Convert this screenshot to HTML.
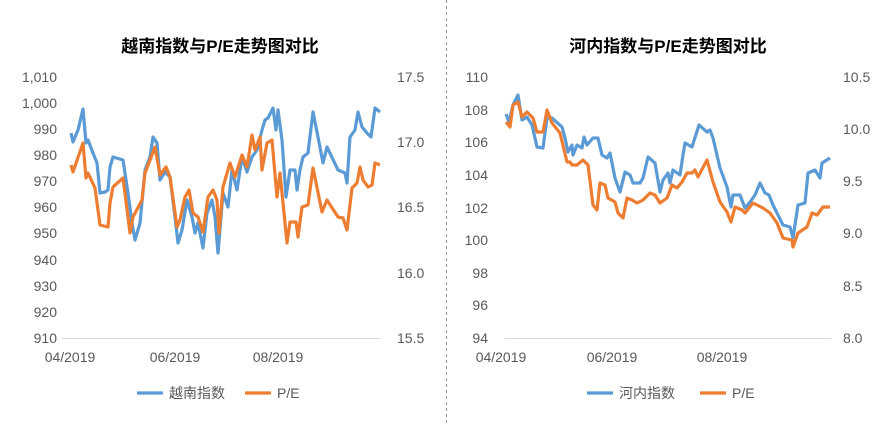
<!DOCTYPE html>
<html><head><meta charset="utf-8"><style>
body{margin:0;background:#fff}
svg text{font-family:"Liberation Sans","Noto Sans CJK SC",sans-serif;fill:#595959;font-size:14px}
.t{font-weight:bold;fill:#000;font-size:17px}
</style></head><body>
<svg width="894" height="425" viewBox="0 0 894 425" xmlns="http://www.w3.org/2000/svg">
<line x1="446.5" y1="0" x2="446.5" y2="425" stroke="#999" stroke-dasharray="3,3"/>
<text class="t" x="220" y="52" text-anchor="middle">越南指数与P/E走势图对比</text>
<text class="t" x="668" y="52" text-anchor="middle">河内指数与P/E走势图对比</text>
<g text-anchor="end">
<text x="57" y="82">1,010</text><text x="57" y="108">1,000</text><text x="57" y="134">990</text><text x="57" y="160">980</text><text x="57" y="186">970</text><text x="57" y="212">960</text><text x="57" y="238">950</text><text x="57" y="265">940</text><text x="57" y="291">930</text><text x="57" y="317">920</text><text x="57" y="343">910</text>
<text x="488" y="82">110</text><text x="488" y="115">108</text><text x="488" y="147">106</text><text x="488" y="180">104</text><text x="488" y="213">102</text><text x="488" y="245">100</text><text x="488" y="278">98</text><text x="488" y="310">96</text><text x="488" y="343">94</text>
</g>
<g>
<text x="397" y="82">17.5</text><text x="397" y="147">17.0</text><text x="397" y="212">16.5</text><text x="397" y="278">16.0</text><text x="397" y="343">15.5</text>
<text x="843" y="82">10.5</text><text x="843" y="134">10.0</text><text x="843" y="186">9.5</text><text x="843" y="238">9.0</text><text x="843" y="291">8.5</text><text x="843" y="343">8.0</text>
</g>
<g text-anchor="middle">
<text x="70" y="362">04/2019</text><text x="175" y="362">06/2019</text><text x="278" y="362">08/2019</text>
<text x="501" y="362">04/2019</text><text x="612" y="362">06/2019</text><text x="722" y="362">08/2019</text>
</g>
<line x1="62" y1="338.5" x2="381" y2="338.5" stroke="#d9d9d9"/>
<line x1="505" y1="338.5" x2="831" y2="338.5" stroke="#d9d9d9"/>
<g fill="none" stroke-width="3.2" stroke-linejoin="round">
<polyline stroke="#5B9BD5" points="71,133 73,142 78,130 83,109 86,143 88,140 93,153 97,163 100,193 105,192 108,190 110,167 113,157 123,160 128,193 132,223 135,240 140,223 145,170 150,157 153,137 157,143 160,180 165,172 170,177 175,217 178,243 182,230 187,200 192,217 195,233 198,223 203,248 207,213 212,200 215,217 218,253 223,193 228,207 232,170 237,190 242,157 247,172 252,157 257,150 262,130 265,120 268,118 273,108 276,130 278,110 282,140 286,197 290,170 295,170 297,190 300,170 303,157 308,153 313,112 318,137 323,163 327,147 338,170 345,173 347,183 350,137 355,130 358,112 362,127 367,133 371,137 375,108 380,112"/>
<polyline stroke="#ED7D31" points="71,165 73,172 83,143 86,178 88,173 95,188 100,225 108,227 110,203 113,187 123,178 128,217 130,233 133,217 142,200 145,173 155,147 160,175 166,167 170,177 177,227 180,220 185,197 189,190 193,213 198,217 203,232 208,197 213,190 217,200 219,233 223,187 230,163 235,177 242,155 247,167 252,135 255,150 260,137 262,170 267,143 272,140 277,197 280,173 287,243 290,222 296,222 298,237 302,207 308,205 313,168 322,212 327,200 338,217 343,218 347,230 352,188 357,183 360,167 363,180 368,187 372,185 375,163 380,165"/>
<polyline stroke="#5B9BD5" points="506,114 509,122 513,105 518,95 522,120 527,117 532,125 537,147 543,148 547,118 552,118 562,127 565,138 568,152 572,145 573,155 577,145 582,148 584,137 587,145 593,138 598,138 602,155 607,158 610,153 615,178 620,192 625,172 630,175 633,183 640,183 643,178 648,157 655,163 660,192 663,180 668,173 670,183 673,170 680,175 683,155 685,143 692,147 699,125 707,132 710,130 713,138 720,168 727,187 731,207 733,195 740,195 745,208 750,202 755,195 760,183 765,193 769,195 773,205 783,225 790,227 793,238 798,205 805,203 808,173 815,170 820,178 822,163 830,158"/>
<polyline stroke="#ED7D31" points="506,122 510,127 513,105 518,102 522,117 527,112 533,118 537,132 543,132 547,110 552,123 560,133 567,162 570,162 572,165 577,165 583,160 588,165 593,205 597,210 600,183 605,185 608,198 615,202 618,213 623,218 627,198 632,200 637,203 643,200 650,193 655,195 660,203 667,198 672,185 677,188 682,182 687,173 692,173 695,170 698,177 707,160 713,182 720,202 727,212 731,222 735,207 742,210 745,213 753,203 763,208 770,213 777,223 783,238 792,240 793,247 798,233 807,227 812,213 817,215 823,207 830,207"/>
<line x1="137" y1="393" x2="163" y2="393" stroke="#5B9BD5"/>
<line x1="245" y1="393" x2="271" y2="393" stroke="#ED7D31"/>
<line x1="587" y1="393" x2="613" y2="393" stroke="#5B9BD5"/>
<line x1="700" y1="393" x2="726" y2="393" stroke="#ED7D31"/>
</g>
<text x="169" y="398">越南指数</text><text x="277" y="398">P/E</text>
<text x="619" y="398">河内指数</text><text x="732" y="398">P/E</text>
</svg>
</body></html>
